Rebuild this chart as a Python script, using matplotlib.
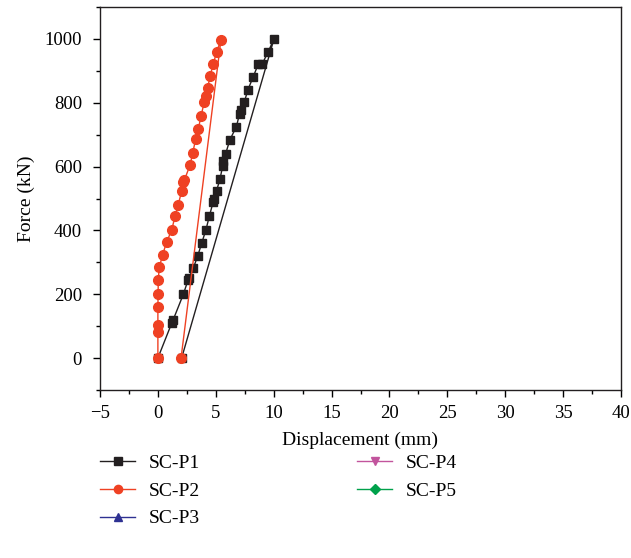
import matplotlib
matplotlib.use("Agg")
import matplotlib.pyplot as plt
from matplotlib.ticker import MultipleLocator

plt.rcParams['font.family'] = ['Liberation Serif', 'DejaVu Serif']

# SC-P1 (loading then unloading)
p1_x = [0, 1.2, 1.3, 2.2, 2.6, 2.7, 3.06, 3.44, 3.8, 4.15, 4.44, 4.78, 4.85, 5.07, 5.36,
        5.6, 5.65, 5.85, 6.22, 6.78, 7.05, 7.2, 7.46, 7.78, 8.24, 8.67, 9.0, 9.53, 10.03, 2.05]
p1_y = [0, 110, 118, 200, 244, 252, 282, 320, 362, 402, 444, 490, 498, 525, 560,
        603, 618, 640, 684, 725, 765, 778, 802, 841, 882, 921, 921, 960, 1000, 0]

# SC-P2
p2_x = [0, 0.0, 0.0, 0.0, 0.02, 0.03, 0.12, 0.41, 0.76, 1.19, 1.48, 1.76, 2.05, 2.19, 2.28,
        2.77, 3.0, 3.26, 3.49, 3.72, 4.0, 4.13, 4.3, 4.5, 4.79, 5.07, 5.45, 2.0]
p2_y = [0, 82, 103, 161, 200, 244, 284, 324, 364, 401, 444, 481, 523, 551, 557,
        604, 641, 686, 717, 758, 801, 822, 845, 883, 922, 959, 998, 0]

# SC-P3, SC-P4, SC-P5 (no visible data)
p3_x, p3_y = [], []
p4_x, p4_y = [], []
p5_x, p5_y = [], []

labels = ['SC-P1', 'SC-P2', 'SC-P3', 'SC-P4', 'SC-P5']
colors = ['#231f20', '#ef4123', '#2e3192', '#c2549d', '#00a14b']
markers = ['s', 'o', '^', 'v', 'D']

fig = plt.figure(figsize=(6.31, 5.58), dpi=100)
ax = fig.add_axes([100/631, 1-390/558, 521/631, 383/558])

series = [(p1_x, p1_y), (p2_x, p2_y), (p3_x, p3_y), (p4_x, p4_y), (p5_x, p5_y)]
sizes = [6, 7, 6, 6, 5.5]
handles = []
for (xs, ys), lab, c, m, s in zip(series, labels, colors, markers, sizes):
    h, = ax.plot(xs, ys, color=c, marker=m, markersize=s, linewidth=1.0, label=lab)
    handles.append(h)

ax.set_xlim(-5, 40)
ax.set_ylim(-100, 1100)
ax.xaxis.set_major_locator(MultipleLocator(5))
ax.xaxis.set_minor_locator(MultipleLocator(2.5))
ax.yaxis.set_major_locator(MultipleLocator(200))
ax.yaxis.set_minor_locator(MultipleLocator(100))
ax.tick_params(which='major', direction='out', length=5, width=1, labelsize=13.5,
               top=False, right=False)
ax.tick_params(axis='x', which='major', pad=5.5)
ax.tick_params(axis='y', which='major', pad=8)
ax.tick_params(which='minor', direction='out', length=3, width=1, top=False, right=False)
for sp in ax.spines.values():
    sp.set_linewidth(1.0)
    sp.set_color('#231f20')
ax.set_xlabel('Displacement (mm)', fontsize=14, labelpad=7)
ax.set_ylabel('Force (kN)', fontsize=14, labelpad=7)

fig.legend(handles=handles, labels=labels, ncol=2, loc='upper left',
           bbox_to_anchor=(100/631, 1-454/558), frameon=False, fontsize=14,
           handlelength=1.8, handletextpad=0.7, columnspacing=8.1, labelspacing=0.53,
           borderaxespad=0, borderpad=0, markerscale=0.85)

fig.savefig('out.png', dpi=100)
